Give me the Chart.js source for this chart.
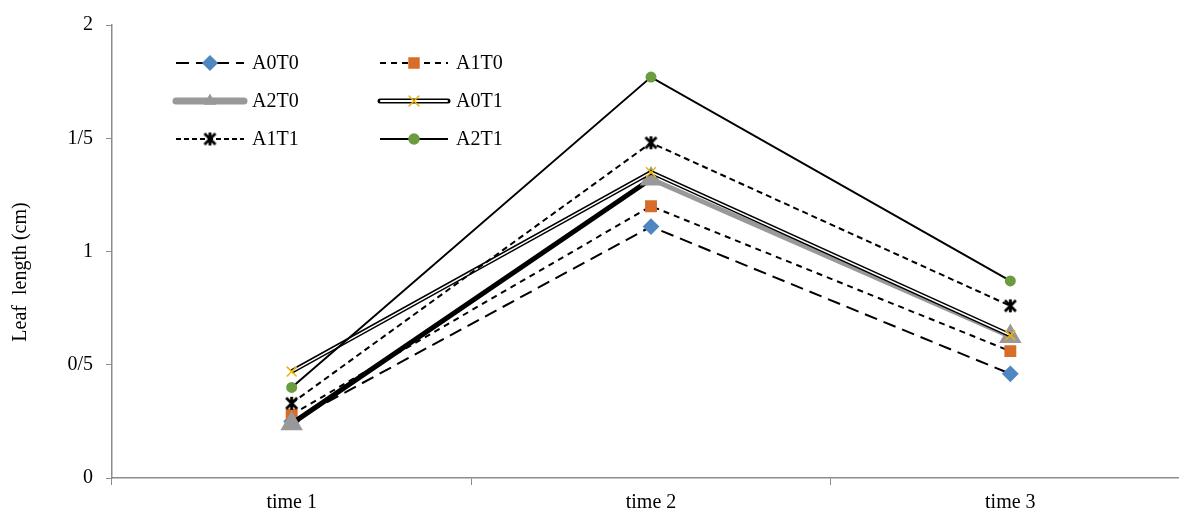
<!DOCTYPE html>
<html>
<head>
<meta charset="utf-8">
<script src="https://cdn.jsdelivr.net/npm/chart.js@4.4.0/dist/chart.umd.min.js"></script>
<style>
  html, body { margin: 0; padding: 0; background: #fff; overflow: hidden; }
  #wrap { width: 1203px; height: 516px; }
</style>
</head>
<body>
<div id="wrap"><canvas id="leafChart" width="1203" height="516"></canvas></div>
<script>
// Leaf length chart data
const categories = ['time 1', 'time 2', 'time 3'];
const a0t0 = [0.25, 1.11, 0.46];
const a1t0 = [0.28, 1.20, 0.56];
const a2t0 = [0.24, 1.32, 0.625];
const a0t1 = [0.47, 1.35, 0.63];
const a1t1 = [0.33, 1.48, 0.76];
const a2t1 = [0.40, 1.77, 0.87];
const yTickLabels = ['0', '0/5', '1', '1/5', '2'];

const FONT = "'Liberation Serif', 'Times New Roman', serif";
const AXIS = '#8c8c8c';

// Excel style "star" marker: X with a vertical bar
function makeStar(size) {
    const cv = document.createElement('canvas');
    cv.width = size; cv.height = size;
    const c = cv.getContext('2d');
    const m = 2, s = size - 2;
    c.strokeStyle = '#000';
    c.lineWidth = 2.8;
    c.beginPath();
    c.moveTo(m, m); c.lineTo(s, s);
    c.moveTo(s, m); c.lineTo(m, s);
    c.moveTo(size / 2, m - 1); c.lineTo(size / 2, s + 1);
    c.stroke();
    return cv;
}
const starMark = makeStar(15);

// legend entries drawn by hand (line sample + marker)
const legendItems = [
    { text: 'A0T0', dash: [13, 7], width: 2, color: '#000', point: 'rectRot', pColor: '#4f87c0', r: 7 },
    { text: 'A1T0', dash: [6, 5], width: 2, color: '#000', point: 'rect', pColor: '#d86c29', r: 7 },
    { text: 'A2T0', dash: [], width: 7, color: '#999', point: 'triangle', pColor: '#999', r: 6 },
    { text: 'A0T1', dash: [], width: 5, color: '#000', inner: true, point: 'crossRot', pColor: '#f0b400', r: 7 },
    { text: 'A1T1', dash: [5, 3], width: 2, color: '#000', point: starMark, pColor: '#000', r: 6 },
    { text: 'A2T1', dash: [], width: 2, color: '#000', point: 'circle', pColor: '#6a9d3f', r: 5 }
];

const legendPlugin = {
    id: 'customLegend',
    afterDraw(chart) {
        const c = chart.ctx;
        const cols = [176, 380];
        const rows = [63, 101, 139];
        legendItems.forEach((it, i) => {
            const x1 = cols[i % 2];
            const x2 = x1 + 68;
            const y = rows[Math.floor(i / 2)];
            c.save();
            c.lineCap = it.width > 4 ? 'round' : 'butt';
            c.strokeStyle = it.color;
            c.lineWidth = it.width;
            c.setLineDash(it.dash);
            c.beginPath(); c.moveTo(x1, y); c.lineTo(x2, y); c.stroke();
            if (it.inner) {
                c.strokeStyle = '#fff';
                c.lineWidth = 2;
                c.beginPath(); c.moveTo(x1 + 1, y); c.lineTo(x2 - 1, y); c.stroke();
            }
            c.setLineDash([]);
            c.fillStyle = it.pColor;
            c.strokeStyle = it.pColor;
            c.lineWidth = 1.5;
            Chart.helpers.drawPoint(c, { pointStyle: it.point, radius: it.r, rotation: 0, borderWidth: 1.5 }, (x1 + x2) / 2, y);
            c.fillStyle = '#000';
            c.font = '20px ' + FONT;
            c.textBaseline = 'middle';
            c.fillText(it.text, x2 + 8, y + 1);
            c.restore();
        });

        // y axis title, placed like the original (a bit below centre)
        c.save();
        c.translate(21, 272);
        c.rotate(-Math.PI / 2);
        c.fillStyle = '#000';
        c.font = '20px ' + FONT;
        c.textAlign = 'center';
        c.textBaseline = 'middle';
        c.fillText('Leaf  length (cm)', 0, 0);
        c.restore();
    }
};

new Chart(document.getElementById('leafChart'), {
    type: 'line',
    data: {
        labels: categories,
        datasets: [
            {
                label: 'A0T0', data: a0t0, order: 6,
                borderColor: '#000', borderWidth: 2, borderDash: [13, 7],
                pointStyle: 'rectRot', pointRadius: 7,
                pointBackgroundColor: '#4f87c0', pointBorderColor: '#4f87c0'
            },
            {
                label: 'A1T0', data: a1t0, order: 5,
                borderColor: '#000', borderWidth: 2, borderDash: [6, 5],
                pointStyle: 'rect', pointRadius: 7,
                pointBackgroundColor: '#d86c29', pointBorderColor: '#d86c29'
            },
            {
                label: 'A2T0', data: a2t0, order: 4,
                borderColor: '#999', borderWidth: 5,
                segment: {
                    // first segment renders black in the original
                    borderColor: ctx => ctx.p0DataIndex === 0 ? '#000' : '#999'
                },
                pointStyle: 'triangle', pointRadius: 8,
                pointBackgroundColor: '#999', pointBorderColor: '#999'
            },
            {
                label: 'A0T1', data: a0t1, order: 3,
                borderColor: '#000', borderWidth: 4.5,
                pointRadius: 0
            },
            {
                label: 'A0T1 inner', data: a0t1, order: 2,
                borderColor: '#fff', borderWidth: 1.5,
                pointStyle: 'crossRot', pointRadius: 7, pointBorderWidth: 1.5,
                pointBackgroundColor: '#f0b400', pointBorderColor: '#f0b400'
            },
            {
                label: 'A1T1', data: a1t1, order: 1,
                borderColor: '#000', borderWidth: 2, borderDash: [6, 4],
                pointStyle: starMark, pointRadius: 7
            },
            {
                label: 'A2T1', data: a2t1, order: 0,
                borderColor: '#000', borderWidth: 2,
                pointStyle: 'circle', pointRadius: 4.5,
                pointBackgroundColor: '#6a9d3f', pointBorderColor: '#6a9d3f'
            }
        ]
    },
    options: {
        responsive: false,
        animation: false,
        tension: 0,
        layout: { padding: { top: 13, right: 0, left: 8, bottom: 0 } },
        plugins: {
            legend: { display: false },
            tooltip: { enabled: false }
        },
        scales: {
            x: {
                offset: true,
                afterFit: s => { s.height = 38; },
                grid: { offset: true, drawOnChartArea: false, drawTicks: true, tickLength: 7, color: AXIS },
                border: { color: AXIS, width: 1.5 },
                ticks: { color: '#000', font: { family: FONT, size: 20 }, padding: 6 }
            },
            y: {
                min: 0, max: 2,
                afterFit: s => { s.width = 104; },
                grid: { drawOnChartArea: false, drawTicks: true, tickLength: 6, color: AXIS },
                border: { color: AXIS, width: 1.5 },
                ticks: {
                    stepSize: 0.5, color: '#000', padding: 13,
                    font: { family: FONT, size: 20 },
                    callback: (v, i) => yTickLabels[i]
                }
            }
        }
    },
    plugins: [legendPlugin]
});
</script>
</body>
</html>
